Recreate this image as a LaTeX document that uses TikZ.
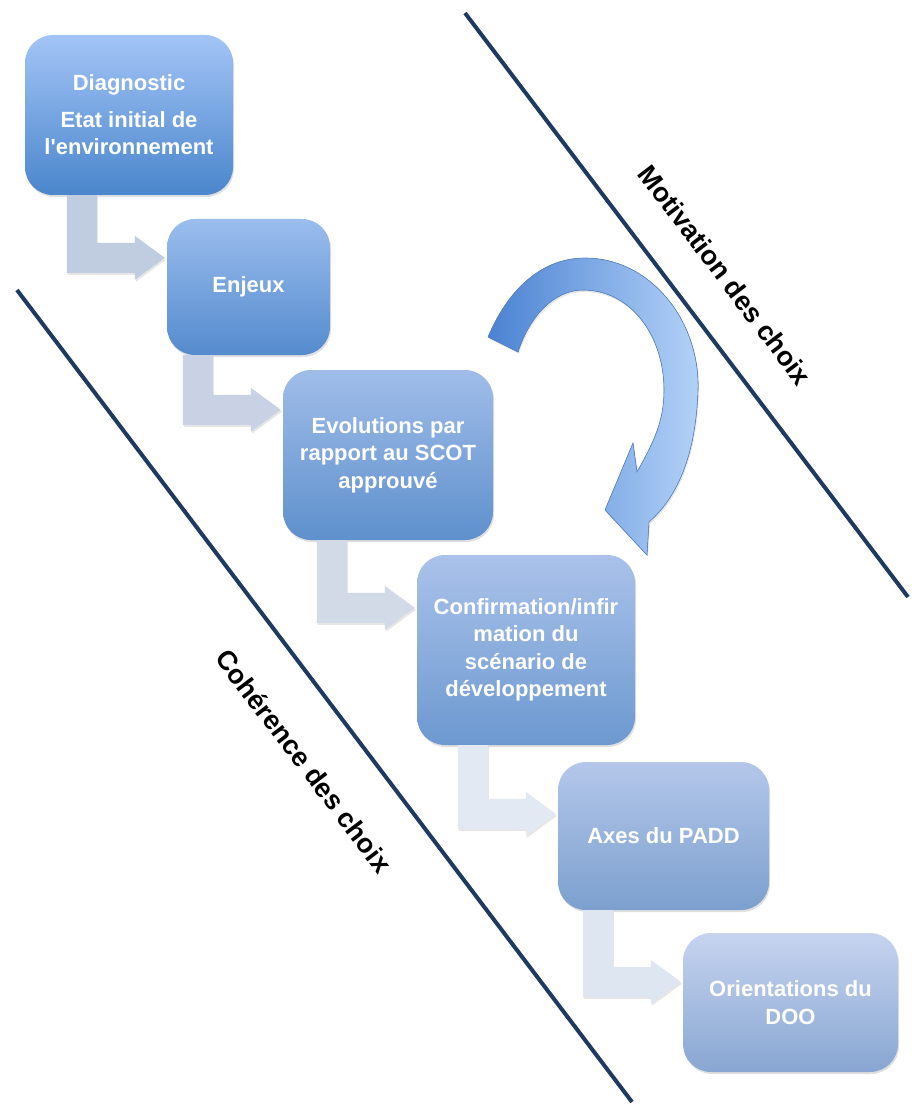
\documentclass[tikz,border=0pt]{standalone}
\usepackage{fontspec}
\setmainfont{Liberation Sans}
\usetikzlibrary{calc,shadows}
\definecolor{sepline}{HTML}{1F3A60}
\definecolor{boucledark}{HTML}{4A82D2}
\definecolor{bouclelight}{HTML}{B4D2F8}
\definecolor{boucleedge}{HTML}{5A86C4}
\definecolor{hautA}{RGB}{163,196,246}\definecolor{basA}{RGB}{74,134,204}
\definecolor{hautB}{RGB}{155,189,238}\definecolor{basB}{RGB}{84,139,205}
\definecolor{hautC}{RGB}{160,189,233}\definecolor{basC}{RGB}{94,144,204}
\definecolor{hautD}{RGB}{170,194,234}\definecolor{basD}{RGB}{108,153,208}
\definecolor{hautE}{RGB}{180,199,234}\definecolor{basE}{RGB}{124,160,206}
\definecolor{hautF}{RGB}{198,212,239}\definecolor{basF}{RGB}{136,166,210}
\definecolor{coudeA}{RGB}{192,204,224}
\definecolor{coudeB}{RGB}{200,210,228}
\definecolor{coudeC}{RGB}{210,218,232}
\definecolor{coudeD}{RGB}{226,233,243}
\definecolor{coudeE}{RGB}{222,230,241}
\tikzset{
  etape/.style 2 args={rounded corners=28pt, top color=#1, bottom color=#2,
    text=white, align=center, inner sep=0pt,
    font=\fontsize{22}{27.5}\selectfont\bfseries,
    drop shadow={opacity=0.25, shadow xshift=1pt, shadow yshift=-2pt}},
  choix/.style={font=\fontsize{27}{30}\selectfont\bfseries, rotate=-52.8},
  sep/.style={draw=sepline, line width=4pt},
}
% bent arrow from the bottom of #1 to the left side of #2
\newcommand\coude[4]{%
  \fill[#3, drop shadow={opacity=0.2, shadow xshift=1pt, shadow yshift=-2pt}]
    let \p1=(#1.south), \p2=(#2.west), \p3=(#2.north) in
    (\x2-100pt,\y1) -- (\x2-70pt,\y1) -- (\x2-70pt,\y3-#4pt+15pt)
    -- (\x2-32pt,\y3-#4pt+15pt) -- (\x2-32pt,\y3-#4pt+22pt)
    -- (\x2-2pt,\y3-#4pt) -- (\x2-32pt,\y3-#4pt-22pt)
    -- (\x2-32pt,\y3-#4pt-15pt) -- (\x2-100pt,\y3-#4pt-15pt) -- cycle;
}

\begin{document}
\begin{tikzpicture}[x=1pt,y=-1pt]
\useasboundingbox (0,0) rectangle (911,1107);

\draw[sep] (465,13) -- (908,597);
\draw[sep] (17,290) -- (632,1102);
\node[choix] (motiv) at (725,275) {Motivation des choix};
\node[choix] (coher) at (304,761) {Cohérence des choix};

\node[etape={hautA}{basA}, minimum width=208pt, minimum height=160pt]
  (diag) at (129,115) {Diagnostic\\[9pt]Etat initial de\\l\textquotesingle environnement};
\node[etape={hautB}{basB}, minimum width=163pt, minimum height=136pt]
  (enjeux) at (248.5,287) {Enjeux};
\node[etape={hautC}{basC}, minimum width=210pt, minimum height=170pt]
  (evol) at (388,455) {Evolutions par\\rapport au SCOT\\approuvé};
\node[etape={hautD}{basD}, minimum width=218pt, minimum height=190pt]
  (confirm) at (526,650) {Confirmation/infir\\mation du\\scénario de\\développement};
\node[etape={hautE}{basE}, minimum width=211pt, minimum height=148pt]
  (padd) at (663.5,836) {Axes du PADD};
\node[etape={hautF}{basF}, minimum width=215pt, minimum height=139pt]
  (doo) at (790.5,1002.5) {Orientations du\\DOO};

\coude{diag}{enjeux}{coudeA}{39}
\coude{enjeux}{evol}{coudeB}{40}
\coude{evol}{confirm}{coudeC}{53}
\coude{confirm}{padd}{coudeD}{52}
\coude{padd}{doo}{coudeE}{49}

% retour vers le scenario
\filldraw[left color=boucledark, right color=bouclelight, draw=boucleedge,
  line width=0.6pt, drop shadow={opacity=0.2, shadow xshift=1pt, shadow yshift=-2pt}]
  (488,337) .. controls (510,285) and (545,258) .. (585,258)
  .. controls (650,258) and (700,320) .. (698,390)
  .. controls (696,450) and (680,495) .. (649,522)
  -- (647,555) -- (605,510) -- (633,443) -- (637,472)
  .. controls (655,440) and (664,420) .. (664,390)
  .. controls (664,335) and (630,290) .. (583,290)
  .. controls (555,290) and (530,315) .. (518,352) -- cycle;
\end{tikzpicture}
\end{document}
